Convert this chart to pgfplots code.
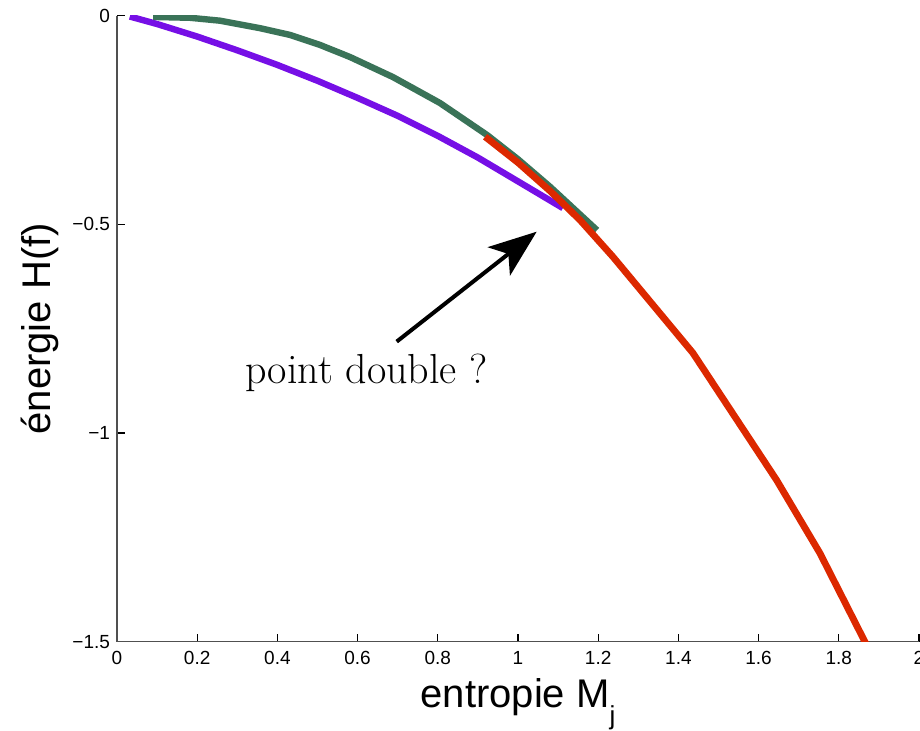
\documentclass[border=0pt]{standalone}
\usepackage{fontspec}
\usepackage{pgfplots}
\pgfplotsset{compat=1.18}
\usetikzlibrary{arrows.meta}
\newfontfamily\helv{Liberation Sans}
\definecolor{cpurple}{RGB}{118,15,230}
\definecolor{cgreen}{RGB}{58,115,88}
\definecolor{cred}{RGB}{220,40,0}
\definecolor{axgray}{RGB}{80,80,80}
\begin{document}
\begin{tikzpicture}
\begin{axis}[name=ax, scale only axis, width=401pt, height=313pt,
  xmin=0, xmax=2, ymin=-1.5, ymax=0,
  axis x line*=bottom, axis y line*=left,
  axis line style={axgray, line width=0.8pt},
  tick align=inside, major tick length=4pt,
  tick style={black, line width=0.6pt},
  xtick={0,0.2,0.4,0.6,0.8,1,1.2,1.4,1.6,1.8,2},
  xticklabels={0,0.2,0.4,0.6,0.8,1,1.2,1.4,1.6,1.8,2},
  ytick={-1.5,-1,-0.5,0},
  yticklabels={−1.5,−1,−0.5,0},
  tick label style={font=\helv\fontsize{9.5}{11}\selectfont},
  xticklabel style={yshift=-1.2pt},
  xlabel={entropie M\raisebox{-8.7pt}{\fontsize{13}{13}\selectfont j}},
  ylabel={énergie H(f)},
  label style={font=\helv\fontsize{20}{24}\selectfont},
  xlabel style={at={(axis description cs:0.5,-0.1045)}, anchor=base},
  ylabel style={at={(axis description cs:-0.0835,0.5)}, anchor=base},
]
\addplot[cpurple, line width=3.2pt] coordinates {
  (0.032,-0.002) (0.10,-0.020) (0.20,-0.050) (0.30,-0.083) (0.40,-0.118)
  (0.50,-0.156) (0.60,-0.197) (0.70,-0.240) (0.80,-0.288) (0.90,-0.340)
  (1.00,-0.397) (1.112,-0.461)
};
\addplot[cgreen, line width=3.2pt] coordinates {
  (0.090,-0.003) (0.182,-0.005) (0.257,-0.012) (0.357,-0.030) (0.431,-0.046)
  (0.506,-0.070) (0.581,-0.099) (0.688,-0.147) (0.805,-0.209) (0.923,-0.286)
  (1.000,-0.344) (1.080,-0.410) (1.197,-0.514)
};
\addplot[cred, line width=3.4pt] coordinates {
  (0.918,-0.290) (1.000,-0.352) (1.080,-0.420) (1.155,-0.490) (1.237,-0.578)
  (1.436,-0.808) (1.645,-1.113) (1.753,-1.288) (1.865,-1.500) (1.90,-1.56)
};
\draw[black, line width=2pt, -{Stealth[length=24pt, width=18pt, inset=6pt]}]
  (axis cs:0.6975,-0.781) -- (axis cs:1.0466,-0.5176);
\node[anchor=base west, inner sep=0pt, font=\fontsize{21}{24}\selectfont]
  at (axis cs:0.319,-0.881) {point double ?};
\end{axis}
\pgfresetboundingbox
\useasboundingbox ([shift={(-58.5pt,-44.65pt)}]ax.south west) rectangle ([shift={(0.5pt,7.85pt)}]ax.north east);
\end{tikzpicture}
\end{document}
